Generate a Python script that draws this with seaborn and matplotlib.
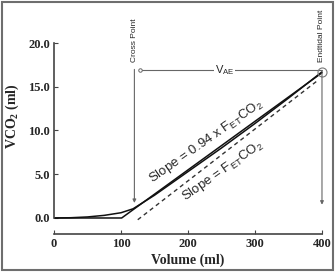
import matplotlib
matplotlib.use("Agg")
import matplotlib.pyplot as plt
import seaborn as sns
from matplotlib.patches import Rectangle

# data
vol_kink = [0, 101, 400]
vco2_kink = [0, 0, 16.6]

vol_curve = [0, 25, 50, 75, 100, 118, 150, 200, 250, 300, 350, 400]
vco2_curve = [0, 0.03, 0.12, 0.3, 0.6, 1.05, 2.6, 5.3, 8.0, 10.8, 13.7, 16.7]

vol_dash = [125, 395]
vco2_dash = [-0.2, 15.8]

x_ticks = [0, 100, 200, 300, 400]
y_ticks = [0, 5, 10, 15, 20]
y_tick_labels = ["0.0", "5.0", "10.0", "15.0", "20.0"]

cross_x = 120
end_x = 400
vae_y = 16.9

sns.set_style("ticks")
plt.rcParams["font.family"] = ["Liberation Serif", "DejaVu Serif"]
plt.rcParams["mathtext.default"] = "regular"

fig = plt.figure(figsize=(3.36, 2.72), dpi=100)
ax = fig.add_axes([0.1607, 0.1397, 0.8215, 0.7022])

sns.lineplot(x=vol_kink, y=vco2_kink, ax=ax, color="#111111", lw=1.1)
sns.lineplot(x=vol_curve, y=vco2_curve, ax=ax, color="#111111", lw=1.1)
sns.lineplot(x=vol_dash, y=vco2_dash, ax=ax, color="#333333", lw=1.0)
ax.lines[-1].set_dashes([3, 2.5])

ax.set_xlim(0, 412)
ax.set_ylim(-1.83, 20)

# annotations
grey = "#666666"
ax.annotate("", xy=(cross_x, 1.4), xytext=(cross_x, 17.3),
            arrowprops=dict(arrowstyle="-|>", color=grey, lw=0.8, mutation_scale=5))
ax.annotate("", xy=(end_x, 1.2), xytext=(end_x, vae_y),
            arrowprops=dict(arrowstyle="-|>", color=grey, lw=0.8, mutation_scale=5))
ax.plot([128, end_x], [vae_y, vae_y], color=grey, lw=0.8)
ax.plot([128], [vae_y], marker="o", ms=2.5, mfc="white", mec=grey, mew=0.7)
ax.plot([end_x], [16.7], marker="o", ms=6.5, mfc="none", mec="#777777", mew=0.8, clip_on=False)
ax.text(255, vae_y, "V$_{AE}$", fontsize=8, family="Liberation Sans", ha="center", va="center",
        bbox=dict(fc="white", ec="none", pad=0.5))

ax.text(cross_x, 17.8, "Cross Point", rotation=90, fontsize=6, family="Liberation Sans",
        ha="center", va="bottom", clip_on=False)
ax.text(end_x, 17.8, "Endtidal Point", rotation=90, fontsize=6, family="Liberation Sans",
        ha="center", va="bottom", clip_on=False)

ax.text(227, 8.7, "Slope = 0.94 x F$_{ET}$CO$_2$", rotation=35, rotation_mode="anchor",
        fontsize=9.5, family="Liberation Sans", ha="center", va="center")
ax.text(252, 5.4, "Slope = F$_{ET}$CO$_2$", rotation=35, rotation_mode="anchor",
        fontsize=9.5, family="Liberation Sans", ha="center", va="center")

# axes styling
ax.set_xticks(x_ticks)
ax.set_yticks(y_ticks)
ax.set_yticklabels(y_tick_labels)
for lab in ax.get_xticklabels() + ax.get_yticklabels():
    lab.set_fontweight("bold")
ax.tick_params(labelsize=9, direction="in", length=3, width=0.8, color="#444444", pad=3)
ax.spines["right"].set_visible(False)
ax.spines["top"].set_visible(False)
ax.spines["left"].set_bounds(0, 20)
ax.spines["bottom"].set_bounds(0, 400)
for s in ["left", "bottom"]:
    ax.spines[s].set_linewidth(1.2)
    ax.spines[s].set_color("#444444")

ax.set_xlabel("Volume (ml)", fontsize=10, fontweight="bold")
ax.set_ylabel("VCO$_2$ (ml)", fontsize=10, fontweight="bold")
ax.xaxis.set_label_coords(0.486, -0.10)
ax.yaxis.set_label_coords(-0.12, 0.618)

fig.patches.append(Rectangle((0.006, 0.007), 0.985, 0.986, transform=fig.transFigure,
                             fill=False, ec="#6e6e6e", lw=1.5))

fig.savefig("out.png", dpi=100)
